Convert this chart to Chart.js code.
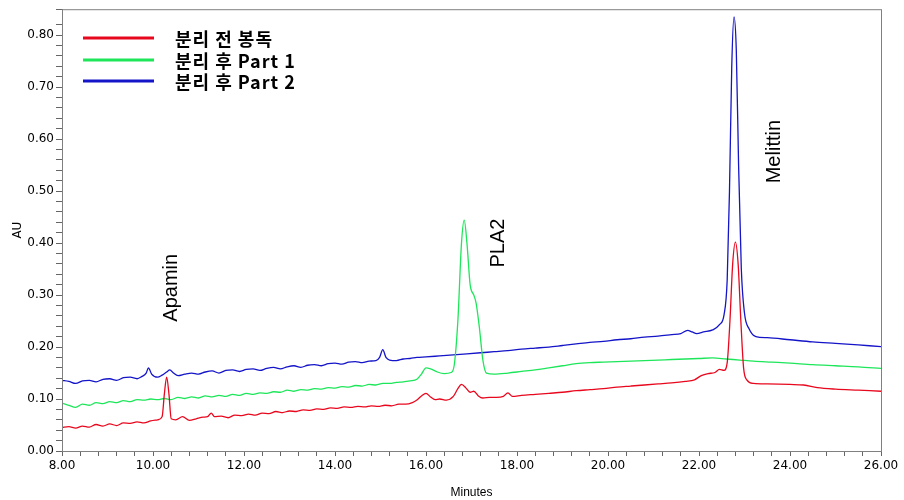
<!DOCTYPE html>
<html>
<head>
<meta charset="utf-8">
<script src="https://cdn.jsdelivr.net/npm/chart.js@4.4.0/dist/chart.umd.min.js"></script>
<style>
  html, body { margin: 0; padding: 0; background: #fff; }
  #wrap { width: 904px; height: 500px; position: relative; }
</style>
</head>
<body>
<div id="wrap"><canvas id="chromChart"></canvas></div>
<script>
// 분리 전 봉독 (red)
const beforeTimes = [8.0, 8.15, 8.3, 8.45, 8.6, 8.75, 8.9, 9.05, 9.2, 9.35, 9.5, 9.65, 9.8, 9.95, 10.1, 10.2, 10.25, 10.3, 10.35, 10.4, 10.5, 10.65, 10.8, 10.95, 11.1, 11.2, 11.28, 11.35, 11.5, 11.65, 11.8, 11.95, 12.1, 12.25, 12.4, 12.55, 12.7, 12.85, 13.0, 13.15, 13.3, 13.45, 13.6, 13.75, 13.9, 14.05, 14.2, 14.35, 14.5, 14.65, 14.8, 14.95, 15.1, 15.25, 15.4, 15.55, 15.7, 15.8, 15.9, 16.0, 16.1, 16.2, 16.3, 16.45, 16.6, 16.7, 16.78, 16.88, 16.97, 17.05, 17.15, 17.25, 17.4, 17.55, 17.7, 17.8, 17.9, 18.1, 18.4, 18.7, 19.0, 19.3, 19.6, 19.9, 20.2, 20.5, 20.8, 21.1, 21.4, 21.7, 21.9, 22.05, 22.2, 22.35, 22.45, 22.55, 22.62, 22.68, 22.74, 22.8, 22.86, 22.92, 22.98, 23.05, 23.2, 23.5, 24.0, 24.3, 24.6, 25.0, 25.5, 26.0];
const beforeValues = [0.045, 0.047, 0.044, 0.048, 0.046, 0.051, 0.048, 0.052, 0.049, 0.054, 0.053, 0.056, 0.054, 0.058, 0.060, 0.066, 0.110, 0.142, 0.110, 0.062, 0.060, 0.066, 0.059, 0.062, 0.065, 0.066, 0.073, 0.066, 0.067, 0.064, 0.069, 0.068, 0.071, 0.069, 0.073, 0.072, 0.076, 0.074, 0.077, 0.076, 0.079, 0.078, 0.081, 0.080, 0.083, 0.082, 0.085, 0.084, 0.086, 0.085, 0.087, 0.086, 0.088, 0.087, 0.090, 0.090, 0.093, 0.098, 0.106, 0.111, 0.104, 0.099, 0.100, 0.098, 0.105, 0.120, 0.128, 0.121, 0.113, 0.115, 0.106, 0.102, 0.103, 0.103, 0.105, 0.112, 0.105, 0.107, 0.109, 0.111, 0.113, 0.116, 0.118, 0.120, 0.123, 0.125, 0.127, 0.129, 0.131, 0.134, 0.137, 0.145, 0.149, 0.151, 0.157, 0.155, 0.170, 0.250, 0.360, 0.402, 0.360, 0.250, 0.160, 0.137, 0.130, 0.129, 0.128, 0.127, 0.122, 0.119, 0.117, 0.115];

// 분리 후 Part 1 (green)
const part1Times = [8.0, 8.15, 8.3, 8.45, 8.6, 8.75, 8.9, 9.05, 9.2, 9.35, 9.5, 9.65, 9.8, 9.95, 10.1, 10.25, 10.4, 10.55, 10.7, 10.85, 11.0, 11.15, 11.3, 11.45, 11.6, 11.75, 11.9, 12.05, 12.2, 12.35, 12.5, 12.65, 12.8, 12.95, 13.1, 13.25, 13.4, 13.55, 13.7, 13.85, 14.0, 14.15, 14.3, 14.45, 14.6, 14.75, 14.9, 15.05, 15.2, 15.35, 15.5, 15.65, 15.8, 15.9, 16.0, 16.1, 16.25, 16.4, 16.55, 16.62, 16.7, 16.78, 16.84, 16.9, 16.97, 17.05, 17.1, 17.17, 17.25, 17.33, 17.5, 17.8, 18.1, 18.4, 18.7, 19.0, 19.3, 19.6, 19.9, 20.2, 20.5, 20.8, 21.1, 21.4, 21.7, 22.0, 22.3, 22.6, 22.9, 23.2, 23.6, 24.0, 24.5, 25.0, 25.5, 26.0];
const part1Values = [0.092, 0.088, 0.084, 0.090, 0.088, 0.093, 0.091, 0.095, 0.093, 0.097, 0.095, 0.099, 0.098, 0.100, 0.099, 0.101, 0.099, 0.103, 0.101, 0.104, 0.102, 0.106, 0.104, 0.107, 0.105, 0.109, 0.107, 0.111, 0.109, 0.112, 0.111, 0.114, 0.113, 0.117, 0.115, 0.118, 0.117, 0.120, 0.119, 0.122, 0.121, 0.124, 0.123, 0.126, 0.125, 0.128, 0.127, 0.130, 0.130, 0.132, 0.133, 0.135, 0.138, 0.148, 0.160, 0.158, 0.152, 0.149, 0.151, 0.165, 0.250, 0.400, 0.444, 0.400, 0.320, 0.300, 0.285, 0.240, 0.175, 0.150, 0.148, 0.150, 0.153, 0.156, 0.160, 0.164, 0.168, 0.170, 0.171, 0.172, 0.173, 0.174, 0.175, 0.176, 0.177, 0.178, 0.179, 0.177, 0.175, 0.173, 0.171, 0.169, 0.166, 0.164, 0.162, 0.159];

// 분리 후 Part 2 (blue)
const part2Times = [8.0, 8.15, 8.3, 8.45, 8.6, 8.75, 8.9, 9.05, 9.2, 9.35, 9.5, 9.65, 9.75, 9.85, 9.9, 9.97, 10.1, 10.2, 10.3, 10.37, 10.45, 10.55, 10.7, 10.85, 11.0, 11.15, 11.3, 11.45, 11.6, 11.75, 11.9, 12.05, 12.2, 12.35, 12.5, 12.65, 12.8, 12.95, 13.1, 13.25, 13.4, 13.55, 13.7, 13.85, 14.0, 14.15, 14.3, 14.45, 14.6, 14.75, 14.9, 14.98, 15.05, 15.12, 15.2, 15.35, 15.5, 15.65, 15.8, 16.0, 16.3, 16.6, 16.9, 17.2, 17.5, 17.8, 18.1, 18.4, 18.7, 19.0, 19.3, 19.6, 19.9, 20.2, 20.5, 20.8, 21.1, 21.4, 21.6, 21.75, 21.85, 21.95, 22.1, 22.3, 22.45, 22.55, 22.62, 22.67, 22.72, 22.77, 22.82, 22.87, 22.93, 23.0, 23.1, 23.25, 23.5, 24.0, 24.5, 25.0, 25.5, 26.0];
const part2Values = [0.136, 0.134, 0.130, 0.135, 0.136, 0.133, 0.138, 0.139, 0.136, 0.141, 0.142, 0.139, 0.143, 0.150, 0.160, 0.148, 0.142, 0.146, 0.152, 0.156, 0.150, 0.145, 0.148, 0.150, 0.148, 0.152, 0.154, 0.150, 0.155, 0.156, 0.153, 0.157, 0.158, 0.155, 0.159, 0.161, 0.158, 0.162, 0.164, 0.161, 0.165, 0.166, 0.164, 0.168, 0.169, 0.167, 0.171, 0.172, 0.170, 0.173, 0.174, 0.180, 0.195, 0.180, 0.175, 0.174, 0.177, 0.178, 0.180, 0.181, 0.183, 0.185, 0.187, 0.189, 0.191, 0.193, 0.196, 0.198, 0.200, 0.203, 0.206, 0.209, 0.211, 0.214, 0.216, 0.219, 0.221, 0.224, 0.226, 0.232, 0.229, 0.226, 0.229, 0.233, 0.243, 0.262, 0.330, 0.500, 0.740, 0.835, 0.770, 0.550, 0.350, 0.265, 0.235, 0.220, 0.218, 0.214, 0.210, 0.207, 0.204, 0.201];

const seriesNames = ['분리 전 봉독', '분리 후 Part 1', '분리 후 Part 2'];
const seriesColors = ['#e8081e', '#1ee65a', '#1414c8'];

const peakLabels = ['Apamin', 'PLA2', 'Melittin'];
const peakLabelX = [10.41, 17.59, 23.65];
const peakLabelY = [0.314, 0.400, 0.576];

function toPoints(times, values) {
  return times.map((t, i) => ({ x: t, y: values[i] }));
}

const frameAndLabels = {
  id: 'frameAndLabels',
  afterDraw(chart) {
    const { ctx, chartArea, scales } = chart;
    ctx.save();
    // plot frame
    ctx.strokeStyle = '#808080';
    ctx.lineWidth = 1;
    ctx.strokeRect(chartArea.left + 0.5, chartArea.top + 0.5,
      chartArea.right - chartArea.left, chartArea.bottom - chartArea.top);

    // legend
    const legendY = [38, 60, 81];
    seriesNames.forEach((name, i) => {
      ctx.strokeStyle = seriesColors[i];
      ctx.lineWidth = 3;
      ctx.beginPath();
      ctx.moveTo(83, legendY[i]);
      ctx.lineTo(154, legendY[i]);
      ctx.stroke();
      ctx.fillStyle = '#000';
      ctx.font = 'bold 18px "Noto Sans CJK KR", "Liberation Sans", Arial, sans-serif';
      ctx.letterSpacing = '1px';
      ctx.textAlign = 'left';
      ctx.textBaseline = 'middle';
      ctx.fillText(name, 175, legendY[i] + 1);
    });
    ctx.letterSpacing = '0px';

    // peak names, rotated
    ctx.fillStyle = '#000';
    ctx.font = '20px "Liberation Sans", Arial, sans-serif';
    ctx.textAlign = 'center';
    ctx.textBaseline = 'middle';
    peakLabels.forEach((txt, i) => {
      const px = scales.x.getPixelForValue(peakLabelX[i]);
      const py = scales.y.getPixelForValue(peakLabelY[i]);
      ctx.save();
      ctx.translate(px, py);
      ctx.rotate(-Math.PI / 2);
      ctx.fillText(txt, 0, 0);
      ctx.restore();
    });
    ctx.restore();
  }
};

const tickFont = { family: '"DejaVu Sans", Arial, sans-serif', size: 12 };

const ctx = document.getElementById('chromChart');
new Chart(ctx, {
  type: 'line',
  data: {
    datasets: [
      { label: seriesNames[0], data: toPoints(beforeTimes, beforeValues), borderColor: seriesColors[0] },
      { label: seriesNames[1], data: toPoints(part1Times, part1Values), borderColor: seriesColors[1] },
      { label: seriesNames[2], data: toPoints(part2Times, part2Values), borderColor: seriesColors[2] },
    ],
  },
  options: {
    responsive: true,
    maintainAspectRatio: false,
    animation: false,
    layout: { padding: { top: 8, right: 23, left: 0, bottom: 0 } },
    elements: {
      line: { borderWidth: 1.3, tension: 0.3, cubicInterpolationMode: 'monotone', fill: false },
      point: { radius: 0 },
    },
    plugins: {
      legend: { display: false },
      tooltip: { enabled: false },
    },
    scales: {
      x: {
        type: 'linear',
        min: 8,
        max: 26,
        border: { color: '#808080' },
        grid: { drawOnChartArea: false, drawTicks: true, tickLength: 5, color: '#666' },
        ticks: {
          stepSize: 0.4,
          autoSkip: false,
          maxRotation: 0,
          padding: 3,
          color: '#000',
          font: tickFont,
          callback: (v) => Math.abs(v / 2 - Math.round(v / 2)) < 1e-6 ? v.toFixed(2) : '',
        },
        title: {
          display: true,
          text: 'Minutes',
          color: '#000',
          font: { family: '"Liberation Sans", Arial, sans-serif', size: 12 },
          padding: { top: 4, bottom: 0 },
        },
        afterFit: (scale) => { scale.height = 49; },
      },
      y: {
        min: 0,
        max: 0.85,
        border: { color: '#808080' },
        grid: { drawOnChartArea: false, drawTicks: true, tickLength: 6, color: '#666' },
        ticks: {
          stepSize: 0.02,
          autoSkip: false,
          padding: 2,
          color: '#000',
          font: tickFont,
          callback: (v) => Math.abs(v * 10 - Math.round(v * 10)) < 1e-6 ? v.toFixed(2) : '',
        },
        title: {
          display: true,
          text: 'AU',
          color: '#000',
          font: { family: '"DejaVu Sans", Arial, sans-serif', size: 12 },
          padding: { top: 11, bottom: 0 },
        },
        afterFit: (scale) => { scale.width = 62; },
      },
    },
  },
  plugins: [frameAndLabels],
});
</script>
</body>
</html>
